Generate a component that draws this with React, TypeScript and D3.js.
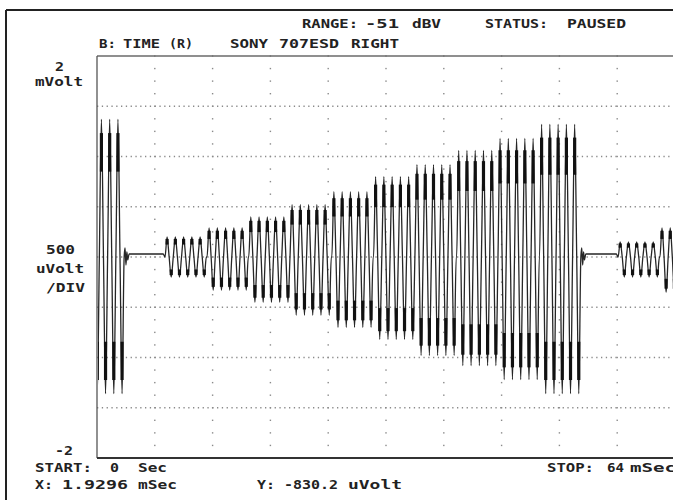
import React from 'react'
import * as d3 from 'd3'

// Burst starts (ms) and tip levels (mV)
const burstStartMs = [-1.57, 7.53, 12.18, 16.8, 21.37, 26.0, 30.62, 35.2, 39.82, 44.4, 49.0, 57.7, 62.33]
const burstTopMv = [1.37, 0.2, 0.29, 0.4, 0.52, 0.65, 0.8, 0.92, 1.06, 1.18, 1.32, 0.15, 0.29]
const burstBottomMv = [1.36, 0.2, 0.33, 0.45, 0.58, 0.7, 0.82, 0.98, 1.08, 1.22, 1.36, 0.2, 0.35]
const cyclesPerBurst = 5
const carrierPeriodMs = 0.915
const restLevelMv = 0.03
const ringDownMv = [0.09, -0.08, 0.05, -0.03]

// axis ranges / divisions
const timeDomainMs = [0, 64]
const voltDomainMv = [-2, 2]
const timeDivMs = 6.4
const voltDivMv = 0.5
const voltMinorMv = 0.125

const W = 673
const H = 500
const plot = { left: 97, top: 56, right: 675, bottom: 458 }

const FONT = '"DejaVu Sans Mono", "Liberation Mono", monospace'

function Label({ x, y, w, children }: { x: number; y: number; w: number; children: string }) {
  return (
    <text x={x} y={y} textLength={w} lengthAdjust="spacingAndGlyphs"
      fontFamily={FONT} fontWeight="bold" fontSize={13} fill="#222">
      {children}
    </text>
  )
}

export default function App() {
  const x = d3.scaleLinear().domain(timeDomainMs).range([plot.left, plot.right])
  const y = d3.scaleLinear().domain(voltDomainMv).range([plot.bottom, plot.top])

  // build trace points from the burst table
  const P = carrierPeriodMs
  const pts: [number, number][] = []
  const peaks: [number, number][] = []
  burstStartMs.forEach((s, i) => {
    const top = burstTopMv[i]
    const bot = burstBottomMv[i]
    const next = i + 1 < burstStartMs.length ? burstStartMs[i + 1] : Infinity
    pts.push([s, 0])
    for (let k = 0; k < cyclesPerBurst; k++) {
      const c = s + k * P
      const cyc: [number, number][] = [
        [c + 0.25 * P, top],
        [c + 0.5 * P, 0],
        [c + 0.75 * P, -bot],
        [c + P, 0],
      ]
      cyc.forEach(p => {
        if (p[0] < next - 0.02) {
          pts.push(p)
          if (p[1] !== 0) peaks.push(p)
        }
      })
    }
    const end = s + cyclesPerBurst * P
    if (next - end > 1) {
      ringDownMv.forEach((v, j) => pts.push([end + 0.1 * (j + 1), v]))
      pts.push([end + 0.55, restLevelMv])
      pts.push([next - 0.2, restLevelMv])
    }
  })

  const line = d3.line<[number, number]>()
    .x(d => x(d[0]))
    .y(d => y(d[1]))
    .curve(d3.curveMonotoneX)

  const hLines = d3.range(voltDomainMv[0] + voltDivMv, voltDomainMv[1] - 0.001, voltDivMv)
  const vLines = d3.range(timeDomainMs[0] + timeDivMs, timeDomainMs[1] - 0.001, timeDivMs)
  const minorV = d3.range(voltDomainMv[0], voltDomainMv[1] + 0.001, voltMinorMv)

  return (
    <svg width={W} height={H} style={{ position: 'absolute', left: 0, top: 0, background: '#fff' }}>
      <defs>
        <clipPath id="plotClip">
          <rect x={plot.left + 1} y={plot.top} width={plot.right - plot.left} height={plot.bottom - plot.top} />
        </clipPath>
      </defs>
      <rect width={W} height={H} fill="#fff" />

      {/* outer frame */}
      <line x1={6} x2={W} y1={10} y2={10} stroke="#222" strokeWidth={2} />
      <line x1={6} x2={6} y1={10} y2={H} stroke="#222" strokeWidth={2} />

      {/* grid */}
      <g>
        {hLines.map(v => (
          <line key={'h' + v} x1={plot.left} x2={plot.right} y1={y(v)} y2={y(v)}
            stroke="#8a8a8a" strokeWidth={1.3} strokeDasharray="1.3 3.5" />
        ))}
        {vLines.map(t => (
          <g key={'v' + t}>
            {minorV.map(v => (
              <rect key={v} x={x(t) - 0.7} y={y(v) - 0.7} width={1.4} height={1.4} fill="#8a8a8a" />
            ))}
          </g>
        ))}
      </g>

      {/* plot border */}
      <line x1={plot.left} x2={W} y1={plot.top} y2={plot.top} stroke="#6a6a6a" strokeWidth={1.4} />
      <line x1={plot.left} x2={plot.left} y1={plot.top} y2={plot.bottom} stroke="#555" strokeWidth={1.3} />
      <line x1={plot.left} x2={W} y1={plot.bottom} y2={plot.bottom} stroke="#333" strokeWidth={1.8} />

      {/* trace */}
      <g clipPath="url(#plotClip)">
        <path d={line(pts) || ''} fill="none" stroke="#262626" strokeWidth={1.3} strokeLinejoin="round" />
        {peaks.map((p, i) => (
          <line key={i} x1={x(p[0])} x2={x(p[0])} y1={y(p[1] * 0.62)} y2={y(p[1] * 0.9)}
            stroke="#111" strokeWidth={3.2} />
        ))}
      </g>

      {/* header */}
      <Label x={302} y={28} w={56}>RANGE:</Label>
      <Label x={365} y={28} w={34}>-51</Label>
      <Label x={412} y={28} w={29}>dBV</Label>
      <Label x={485} y={28} w={63}>STATUS:</Label>
      <Label x={567} y={28} w={59}>PAUSED</Label>

      <Label x={99} y={48} w={17}>B:</Label>
      <Label x={123} y={48} w={37}>TIME</Label>
      <Label x={169} y={48} w={24}>(R)</Label>
      <Label x={230} y={48} w={38}>SONY</Label>
      <Label x={279} y={48} w={60}>707ESD</Label>
      <Label x={351} y={48} w={48}>RIGHT</Label>

      {/* y labels */}
      <Label x={55} y={71} w={9}>2</Label>
      <Label x={35} y={86} w={48}>mVolt</Label>
      <Label x={46} y={254} w={29}>500</Label>
      <Label x={36} y={273} w={48}>uVolt</Label>
      <Label x={46} y={292} w={39}>/DIV</Label>
      <Label x={55} y={455} w={18}>-2</Label>

      {/* footer */}
      <Label x={35} y={472} w={57}>START:</Label>
      <Label x={110} y={472} w={9}>0</Label>
      <Label x={138} y={472} w={29}>Sec</Label>
      <Label x={547} y={472} w={47}>STOP:</Label>
      <Label x={607} y={472} w={17}>64</Label>
      <Label x={630} y={472} w={46}>mSec</Label>

      <Label x={35} y={489} w={18}>X:</Label>
      <Label x={62} y={489} w={66}>1.9296</Label>
      <Label x={138} y={489} w={39}>mSec</Label>
      <Label x={257} y={489} w={18}>Y:</Label>
      <Label x={284} y={489} w={54}>-830.2</Label>
      <Label x={348} y={489} w={54}>uVolt</Label>
    </svg>
  )
}
